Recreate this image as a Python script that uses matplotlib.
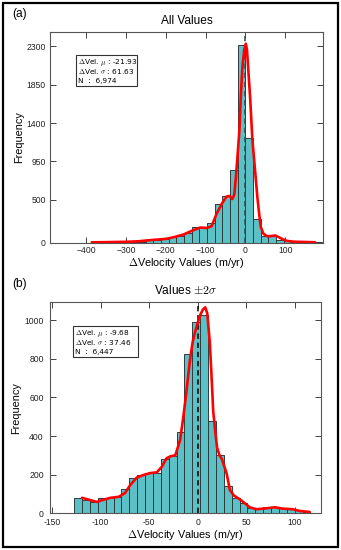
import numpy as np
import matplotlib
matplotlib.use("Agg")
import matplotlib.pyplot as plt
from matplotlib.patches import Rectangle

plt.rcParams['font.family'] = ['Liberation Sans', 'DejaVu Sans']
plt.rcParams['mathtext.fontset'] = 'cm'

# ---------------- Panel (a): All values ----------------
a_bin_start = -386.0
a_bin_width = 19.3
a_counts = [2, 2, 3, 3, 4, 5, 8, 28, 30, 45, 70, 82, 117, 176, 176, 226, 457, 546,
            845, 2312, 1228, 278, 78, 72, 32, 14, 5, 3, 2, 1]
a_kde_x = [-386, -350, -300, -270, -240, -219, -198, -177, -156, -135, -114, -97, -85,
           -72, -59, -47, -40, -33, -28, -24, -20, -15, -11.6, -7.5, -3, 1, 4, 6.8,
           11.8, 17.6, 22.8, 30, 34.5, 38.6, 45, 54, 65, 75, 85, 92, 104, 120, 138, 175]
a_kde_y = [2, 4, 8, 14, 27, 35, 43, 66, 93, 136, 175, 171, 191,
           340, 457, 540, 545, 510, 560, 760, 1000, 1320, 1705, 2056, 2260, 2330, 2260, 2056,
           1705, 1200, 925, 534, 340, 183, 105, 74, 75, 82, 60, 42, 19, 10, 7, 3]
a_yticks = [0, 500, 950, 1400, 1850, 2300]
a_xticks = [-400, -300, -200, -100, 0, 100]
a_xticklabels = ['\u2212400', '\u2212300', '\u2212200', '\u2212100', '0', '100']
a_stats = ["-21.93", "61.63", "6,974"]

# ---------------- Panel (b): values within +-2 sigma ----------------
b_bin_start = -127.1
b_bin_width = 8.107
b_counts = [80, 71, 58, 77, 80, 85, 124, 183, 197, 211, 211, 280, 296, 422, 826,
            988, 1025, 480, 300, 140, 77, 52, 28, 27, 35, 33, 26, 22, 19, 8]
b_kde_x = [-119, -114, -104, -97, -90, -81.5, -74.7, -69.6, -62.7, -55.9, -49, -42, -37,
           -32, -28, -23, -18, -14.7, -11.3, -8, -5, -2.5, 0, 3, 5.5, 7.8, 9.9, 12.6,
           14.4, 16, 18, 20, 22.5, 25, 29.8, 33.2, 37.3, 43.5, 48.6, 53.7, 60.6, 70.9,
           79.4, 88, 98, 105, 115.4]
b_kde_y = [80, 73, 59, 70, 80, 85, 105, 145, 185, 198, 208, 212, 240,
           285, 295, 300, 380, 500, 640, 790, 890, 940, 985, 1030, 1055, 1066, 1035, 880,
           700, 530, 430, 340, 300, 280, 207, 120, 92, 72, 52, 31, 21, 26,
           31, 24, 21, 12, 7]
b_yticks = [0, 200, 400, 600, 800, 1000]
b_xticks = [-150, -100, -50, 0, 50, 100]
b_xticklabels = ['-150', '-100', '-50', '0', '50', '100']
b_stats = ["-9.68", "37.46", "6,447"]

W, H = 341, 550
fig = plt.figure(figsize=(W / 100, H / 100), dpi=100)

bar_color = '#5cc0c7'


def draw_panel(rect, start, width, counts, kx, ky, xlim, ylim, xticks, xticklabels,
               yticks, title, label, stats, box, dash_color, xpad, ypad):
    ax = fig.add_axes(rect)
    lefts = start + width * np.arange(len(counts))
    ax.bar(lefts, counts, width=width, align='edge', color=bar_color,
           edgecolor='#2f3b3d', linewidth=0.7, zorder=2)
    ax.plot(kx, ky, color='red', lw=1.9, zorder=4, solid_capstyle='round')
    ax.axvline(0, color=dash_color, ls='--', lw=1.1, dashes=(3.5, 2.5), zorder=3)
    ax.set_xlim(*xlim)
    ax.set_ylim(*ylim)
    ax.set_xticks(xticks)
    ax.set_xticklabels(xticklabels)
    ax.set_yticks(yticks)
    ax.tick_params(direction='in', top=True, right=True, labelsize=6.2,
                   length=4, width=0.6, colors='#222222')
    ax.tick_params(axis='x', pad=xpad)
    ax.tick_params(axis='y', pad=ypad)
    for s in ax.spines.values():
        s.set_color('#555555')
        s.set_linewidth(0.8)
    ax.set_xlabel(r'$\Delta$Velocity Values (m/yr)', fontsize=7.8, labelpad=1)
    ax.set_ylabel('Frequency', fontsize=7.8, labelpad=2)
    ax.set_title(title, fontsize=8.6, pad=6)
    # stats box
    x0, x1, y0, y1 = box
    ax.add_patch(Rectangle((x0, y0), x1 - x0, y1 - y0, transform=ax.transAxes,
                           fc='white', ec='#333333', lw=0.8, zorder=6))
    lines = ["$\\Delta$Vel. $\\mu$ : " + stats[0],
             "$\\Delta$Vel. $\\sigma$ : " + stats[1],
             "N  :  " + stats[2]]
    step = (y1 - y0) / 3.0
    for i, ln in enumerate(lines):
        ax.text(x0 + 0.009, y1 - step * (i + 0.5), ln, transform=ax.transAxes,
                fontsize=5.3, family=['DejaVu Sans'], va='center_baseline', ha='left',
                zorder=7)
    fig.text(rect[0] - 0.112, rect[1] + rect[3] + 0.034, label, fontsize=8.6,
             ha='left', va='center')
    return ax


axa = draw_panel([50 / W, 1 - 242.5 / H, 273 / W, 210.2 / H],
                 a_bin_start, a_bin_width, a_counts, a_kde_x, a_kde_y,
                 (-491, 195), (0, 2464), a_xticks, a_xticklabels, a_yticks,
                 'All Values', '(a)', a_stats, (0.095, 0.318, 0.745, 0.892), '#2e4a4d',
                 2.5, 3)

axb = draw_panel([50 / W, 1 - 513.3 / H, 271 / W, 211 / H],
                 b_bin_start, b_bin_width, b_counts, b_kde_x, b_kde_y,
                 (-152, 127), (0, 1092), b_xticks, b_xticklabels, b_yticks,
                 r'Values $\pm 2\sigma$', '(b)', b_stats, (0.085, 0.325, 0.742, 0.888),
                 'black', 3.2, 4.5)

fig.add_artist(Rectangle((3 / W, 3 / H), 1 - 6 / W, 1 - 6 / H, transform=fig.transFigure,
                         fill=False, ec='black', lw=1.6))

fig.savefig('out.png', dpi=100)
